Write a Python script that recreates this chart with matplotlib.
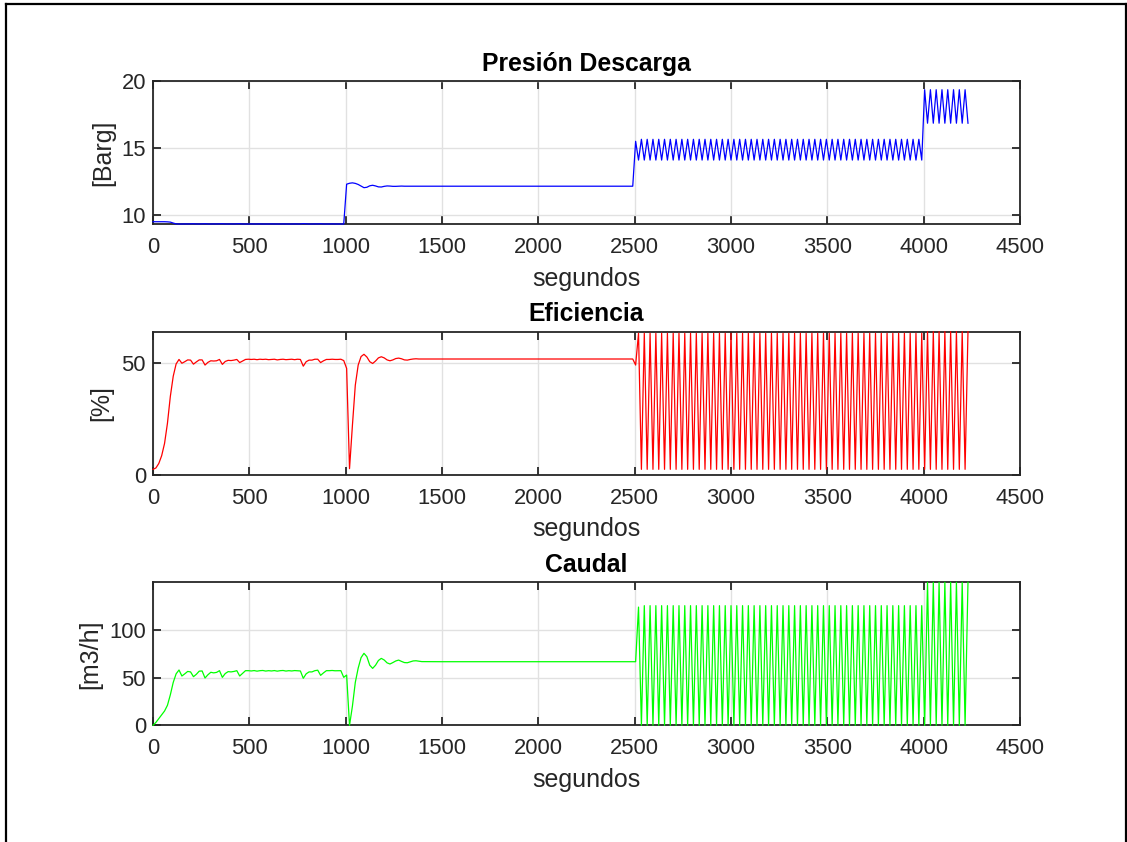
import numpy as np
import matplotlib
matplotlib.use("Agg")
import matplotlib.pyplot as plt
from matplotlib.lines import Line2D

plt.rcParams['font.family'] = ['Liberation Sans', 'DejaVu Sans']

# ---- sample times [s] ----
t_start = np.arange(0, 1396, 15)        # start-up and first set-point change
t_hold = [1500, 2000, 2490]              # steady operation
t_cycle = np.arange(2505, 4231, 15)      # on/off cycling

# ---- discharge pressure [Barg] ----
pres_start = [
    9.50, 9.50, 9.50, 9.50, 9.50, 9.49, 9.47, 9.40, 9.34, 9.33,
    9.33, 9.34, 9.33, 9.34, 9.35, 9.33, 9.33, 9.34, 9.35, 9.33,
    9.33, 9.34, 9.33, 9.34, 9.35, 9.33, 9.33, 9.34, 9.33, 9.34,
    9.35, 9.33, 9.33, 9.33, 9.34, 9.33, 9.33, 9.34, 9.33, 9.33,
    9.33, 9.34, 9.33, 9.33, 9.33, 9.34, 9.33, 9.33, 9.33, 9.34,
    9.33, 9.33, 9.36, 9.34, 9.33, 9.33, 9.34, 9.33, 9.35, 9.33,
    9.33, 9.33, 9.34, 9.33, 9.33, 9.33, 9.33, 12.30, 12.37, 12.40,
    12.36, 12.28, 12.16, 12.04, 12.07, 12.18, 12.22, 12.17, 12.10, 12.09,
    12.14, 12.17, 12.16, 12.14, 12.14, 12.15, 12.16, 12.15, 12.15, 12.15,
    12.15, 12.15, 12.15, 12.15,
]
pres_hold = [12.15, 12.15, 12.15]
pres_cycle = [
    15.50,
    14.10, 15.65, 14.10, 15.65, 14.10, 15.65, 14.10, 15.65, 14.10, 15.65,
    14.10, 15.65, 14.10, 15.65, 14.10, 15.65, 14.10, 15.65, 14.10, 15.65,
    14.10, 15.65, 14.10, 15.65, 14.10, 15.65, 14.10, 15.65, 14.10, 15.65,
    14.10, 15.65, 14.10, 15.65, 14.10, 15.65, 14.10, 15.65, 14.10, 15.65,
    14.10, 15.65, 14.10, 15.65, 14.10, 15.65, 14.10, 15.65, 14.10, 15.65,
    14.10, 15.65, 14.10, 15.65, 14.10, 15.65, 14.10, 15.65, 14.10, 15.65,
    14.10, 15.65, 14.10, 15.65, 14.10, 15.65, 14.10, 15.65, 14.10, 15.65,
    14.10, 15.65, 14.10, 15.65, 14.10, 15.65, 14.10, 15.65, 14.10, 15.65,
    14.10, 15.65, 14.10, 15.65, 14.10, 15.65, 14.10, 15.65, 14.10, 15.65,
    14.10, 15.65, 14.10, 15.65, 14.10, 15.65, 14.10, 15.65, 14.10,
    19.35, 16.85, 19.35, 16.85, 19.35, 16.85, 19.35, 16.85,
    19.35, 16.85, 19.35, 16.85, 19.35, 16.85, 19.35, 16.85,
]

# ---- efficiency [%] ----
eff_start = [
    2.4, 3.0, 5.0, 8.5, 14.0, 23.0, 35.0, 44.0, 49.5, 51.5,
    49.8, 50.5, 51.3, 51.2, 49.4, 50.4, 51.3, 51.3, 49.0, 50.2,
    50.9, 50.8, 50.9, 51.5, 49.3, 50.6, 51.1, 51.0, 51.2, 51.5,
    50.1, 50.8, 51.5, 51.6, 51.5, 51.6, 51.4, 51.6, 51.5, 51.6,
    51.4, 51.5, 51.6, 51.3, 51.5, 51.6, 51.4, 51.5, 51.6, 51.4,
    51.6, 51.5, 48.5, 50.5, 51.2, 51.2, 51.6, 51.6, 50.1, 50.9,
    51.5, 51.5, 51.6, 51.5, 51.5, 51.6, 51.0, 47.5, 2.7, 22.0,
    40.0, 49.0, 52.8, 53.8, 52.6, 50.5, 49.7, 50.8, 52.2, 52.7,
    52.2, 51.3, 50.9, 51.3, 51.9, 52.1, 51.8, 51.3, 51.2, 51.5,
    51.7, 51.8, 51.7, 51.7,
]
eff_hold = [51.7, 51.7, 51.7]
eff_cycle = [
    49.0,
    63.2, 2.4, 63.2, 2.4, 63.2, 2.4, 63.2, 2.4, 63.2, 2.4,
    63.2, 2.4, 63.2, 2.4, 63.2, 2.4, 63.2, 2.4, 63.2, 2.4,
    63.2, 2.4, 63.2, 2.4, 63.2, 2.4, 63.2, 2.4, 63.2, 2.4,
    63.2, 2.4, 63.2, 2.4, 63.2, 2.4, 63.2, 2.4, 63.2, 2.4,
    63.2, 2.4, 63.2, 2.4, 63.2, 2.4, 63.2, 2.4, 63.2, 2.4,
    63.2, 2.4, 63.2, 2.4, 63.2, 2.4, 63.2, 2.4, 63.2, 2.4,
    63.2, 2.4, 63.2, 2.4, 63.2, 2.4, 63.2, 2.4, 63.2, 2.4,
    63.2, 2.4, 63.2, 2.4, 63.2, 2.4, 63.2, 2.4, 63.2, 2.4,
    63.2, 2.4, 63.2, 2.4, 63.2, 2.4, 63.2, 2.4, 63.2, 2.4,
    63.2, 2.4, 63.2, 2.4, 63.2, 2.4, 63.2, 2.4, 63.2,
    2.4, 63.9, 2.4, 63.9, 2.4, 63.9, 2.4, 63.9,
    2.4, 63.9, 2.4, 63.9, 2.4, 63.9, 2.4, 63.9,
]

# ---- flow [m3/h] ----
flow_start = [
    0.0, 3.0, 7.0, 11.0, 15.0, 21.0, 32.0, 45.0, 54.0, 58.0,
    51.7, 54.0, 56.5, 56.0, 51.0, 53.5, 56.8, 57.0, 49.6, 53.0,
    55.6, 55.0, 55.5, 57.3, 50.3, 54.3, 56.3, 56.0, 56.5, 57.3,
    51.7, 54.5, 57.3, 57.3, 57.0, 57.4, 56.8, 57.3, 57.5, 56.9,
    57.3, 57.0, 57.4, 56.8, 57.3, 57.5, 56.9, 57.3, 57.0, 57.4,
    57.2, 57.0, 49.3, 54.0, 56.0, 56.0, 57.3, 57.8, 52.4, 55.0,
    57.3, 57.3, 57.5, 57.2, 57.3, 57.3, 50.3, 52.7, 0.0, 20.0,
    45.0, 60.0, 71.0, 75.5, 72.0, 63.0, 59.7, 63.0, 68.0, 70.2,
    68.5, 65.5, 64.3, 65.8, 67.5, 68.4, 67.0, 65.8, 65.6, 66.5,
    67.5, 67.7, 67.2, 66.8,
]
flow_hold = [66.7, 66.7, 66.7]
flow_cycle = [
    66.7,
    124.0, 0.0, 125.5, 0.0, 125.5, 0.0, 125.5, 0.0, 125.5, 0.0,
    125.5, 0.0, 125.5, 0.0, 125.5, 0.0, 125.5, 0.0, 125.5, 0.0,
    125.5, 0.0, 125.5, 0.0, 125.5, 0.0, 125.5, 0.0, 125.5, 0.0,
    125.5, 0.0, 125.5, 0.0, 125.5, 0.0, 125.5, 0.0, 125.5, 0.0,
    125.5, 0.0, 125.5, 0.0, 125.5, 0.0, 125.5, 0.0, 125.5, 0.0,
    125.5, 0.0, 125.5, 0.0, 125.5, 0.0, 125.5, 0.0, 125.5, 0.0,
    125.5, 0.0, 125.5, 0.0, 125.5, 0.0, 125.5, 0.0, 125.5, 0.0,
    125.5, 0.0, 125.5, 0.0, 125.5, 0.0, 125.5, 0.0, 125.5, 0.0,
    125.5, 0.0, 125.5, 0.0, 125.5, 0.0, 125.5, 0.0, 125.5, 0.0,
    125.5, 0.0, 125.5, 0.0, 125.5, 0.0, 125.5, 0.0, 125.5,
    0.0, 150.0, 0.0, 150.0, 0.0, 150.0, 0.0, 150.0,
    0.0, 150.0, 0.0, 150.0, 0.0, 150.0, 0.0, 150.0,
]

time_s = np.concatenate([t_start, t_hold, t_cycle])
pressure = np.concatenate([pres_start, pres_hold, pres_cycle])
efficiency = np.concatenate([eff_start, eff_hold, eff_cycle])
flow = np.concatenate([flow_start, flow_hold, flow_cycle])

x_ticks = np.arange(0, 4501, 500)
panels = [
    ("Presión Descarga", "[Barg]", pressure, (0, 0, 1), (9.33, 20), [10, 15, 20], -0.0438),
    ("Eficiencia", "[%]", efficiency, (1, 0, 0), (0, 63.9), [0, 50], -0.046),
    ("Caudal", "[m3/h]", flow, (0, 1, 0), (0, 150), [0, 50, 100], -0.058),
]

W, H = 1127, 842
fig = plt.figure(figsize=(W / 100, H / 100), dpi=100)
fig.patch.set_facecolor('white')

left, width, height = 153 / W, 867 / W, 143 / H
tops = [81, 331.7, 582.3]
ink = '#262626'

for (title, ylab, series, col, ylim, yticks, lab_x), top in zip(panels, tops):
    ax = fig.add_axes([left, 1 - (top + 143) / H, width, height])
    ax.plot(time_s, series, color=col, linewidth=0.9, zorder=3, clip_on=False)
    ax.set_xlim(0, 4500)
    ax.set_xticks(x_ticks)
    ax.set_ylim(*ylim)
    ax.set_yticks(yticks)
    ax.grid(True, color='#e1e1e1', linewidth=1.0)
    ax.set_axisbelow(True)
    ax.tick_params(axis='both', direction='in', length=6, width=1.3,
                   top=True, right=True, labelsize=15.8, colors=ink)
    ax.tick_params(axis='x', pad=9.5)
    ax.tick_params(axis='y', pad=5)
    for sp in ax.spines.values():
        sp.set_linewidth(1.3)
        sp.set_color(ink)
    ax.set_title(title, fontsize=17.8, fontweight='bold', pad=7.5)
    ax.set_xlabel("segundos", fontsize=18, color=ink, labelpad=6)
    ax.set_ylabel(ylab, fontsize=18, color=ink)
    ax.yaxis.set_label_coords(lab_x, 0.5)

# frame around the figure (left, top and right edges)
fx0, fx1, fy1 = 6 / W, 1125.5 / W, 1 - 3.5 / H
for xs, ys in [([fx0, fx0], [0, fy1]), ([fx0, fx1], [fy1, fy1]), ([fx1, fx1], [fy1, 0])]:
    fig.add_artist(Line2D(xs, ys, transform=fig.transFigure, color='black', linewidth=1.6))

fig.savefig("out.png", dpi=100)
